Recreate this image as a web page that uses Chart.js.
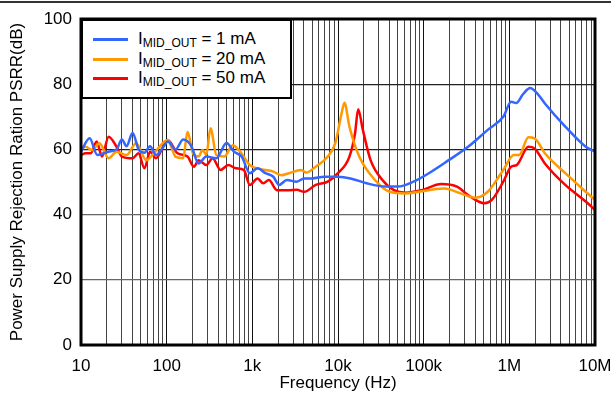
<!DOCTYPE html>
<html>
<head>
    <meta charset="UTF-8">
    <style>
        body { margin: 0; background: #fff; font-family: "Liberation Sans", Arial, sans-serif; }
        .wrap { position: relative; width: 611px; height: 394px; }
        .topline { position: absolute; left: 0; top: 1px; width: 611px; border-top: 2px solid #333; }
        .legend {
            position: absolute; left: 81px; top: 19px; width: 207px; height: 76px;
            border: 2px solid #000; background: #fff; font-size: 17px; color: #000;
        }
        .legend .row { position: absolute; left: 0; height: 20px; white-space: nowrap; }
        .legend .swatch { position: absolute; left: 10px; top: 9px; width: 35px; height: 3px; }
        .legend .txt { position: absolute; left: 55px; top: 0; line-height: 20px; }
        .legend sub { font-size: 12px; vertical-align: -3px; }
    </style>
    <script src="https://cdn.jsdelivr.net/npm/chart.js@4.4.0/dist/chart.umd.min.js"></script>
    <title>PSRR</title>
</head>
<body>
<div class="wrap">
    <canvas id="psrrChart" width="611" height="394"></canvas>
    <div class="topline"></div>
    <div class="legend" id="legend"></div>
</div>
<script>
    const seriesNames = ['1 mA', '20 mA', '50 mA'];
    const seriesColors = ['#3366ff', '#ff9900', '#ff0000'];

    const freq1mA = [10, 12.6, 15.5, 21, 26, 30, 34, 40, 47, 55, 64, 75, 93, 103, 127, 156, 194, 236, 290, 380, 500, 610, 750, 935, 1150, 1420, 1760, 2050, 2530, 3300, 4040, 4990, 6900, 10000, 14000, 21600, 36000, 50000, 76000, 115000, 196000, 330000, 560000, 850000, 1050000, 1200000, 1450000, 1750000, 2100000, 2600000, 4500000, 7800000, 10000000];
    const psrr1mA = [59.3, 63.4, 58.3, 59.3, 60, 63, 61, 65, 60, 59, 61, 58.3, 61, 62.4, 60, 63, 61, 55.7, 57.8, 57.3, 62, 59.3, 57.8, 52.7, 54.2, 52.7, 51.6, 49.1, 50.6, 50.1, 51.1, 51.1, 51.6, 51.6, 51.1, 49.6, 48.6, 48.6, 50.1, 52.7, 56.7, 60.8, 66, 70, 74.6, 74.2, 77, 78.8, 77.3, 74.1, 67, 60.8, 59.3];

    const freq20mA = [10, 11.3, 13.5, 16.4, 21, 26, 34, 44, 58, 71, 103, 127, 156, 175, 203, 236, 263, 290, 325, 380, 470, 590, 720, 935, 1420, 1760, 2170, 2680, 3690, 4260, 5500, 7600, 9300, 11000, 11900, 13600, 17700, 27000, 40000, 62000, 115000, 176000, 270000, 400000, 560000, 850000, 1130000, 1300000, 1670000, 1970000, 2600000, 4500000, 7800000, 10000000];
    const psrr20mA = [60.3, 60.8, 59.8, 61.9, 57.3, 59.3, 58.3, 61.9, 56.7, 58.8, 62.9, 57.8, 57.3, 65.4, 58.8, 57.8, 59.8, 58.3, 66.5, 58.3, 57.8, 61.3, 59.3, 55.2, 53.7, 53.2, 52.1, 52.7, 53.7, 52.9, 54.7, 57.8, 61.9, 71, 74.3, 67, 57.8, 50.6, 47, 46.5, 47.5, 48, 46.5, 45.2, 47, 53.7, 58.3, 58.3, 63.7, 63.4, 58.8, 52.7, 47, 44.5];

    const freq50mA = [10, 11.3, 13, 15.2, 17.6, 21, 26, 30, 40, 47, 55, 64, 75, 103, 134, 175, 208, 236, 290, 344, 425, 525, 645, 795, 935, 1150, 1340, 1560, 1940, 2680, 3300, 4040, 5500, 7600, 10000, 13600, 15800, 17200, 19500, 24000, 33000, 45000, 62000, 95000, 160000, 245000, 330000, 510000, 625000, 850000, 1050000, 1220000, 1670000, 1970000, 2600000, 4500000, 7800000, 10000000];
    const psrr50mA = [58.3, 58.8, 58.8, 62.4, 57.8, 63.9, 60.8, 57.8, 57.3, 58.8, 54.2, 59.3, 57.3, 62.9, 58.8, 57.8, 54.7, 56.7, 55.2, 57.3, 53.7, 55.2, 54.2, 53.7, 49.1, 51.1, 49.6, 50.6, 47.5, 47.5, 47.6, 47, 49.1, 50.1, 52.7, 57.8, 64.9, 72.3, 66, 56.7, 50.6, 47.5, 46.7, 47.5, 49.4, 48.6, 46, 43.5, 44.5, 50.1, 54.7, 55.2, 60.8, 60.3, 55.7, 49.1, 44, 41.4];

    const decadeLabels = { 10: '10', 100: '100', 1000: '1k', 10000: '10k', 100000: '100k', 1000000: '1M', 10000000: '10M' };
    const yTicks = [0, 20, 40, 60, 80, 100];

    const freqs = [freq1mA, freq20mA, freq50mA];
    const values = [psrr1mA, psrr20mA, psrr50mA];

    // legend with subscript text
    const legend = document.getElementById('legend');
    seriesNames.forEach(function (name, i) {
        const row = document.createElement('div');
        row.className = 'row';
        row.style.top = (8 + i * 19.5) + 'px';
        row.innerHTML = '<div class="swatch" style="background:' + seriesColors[i] + '"></div>' +
            '<div class="txt">I<sub>MID_OUT</sub> = ' + name + '</div>';
        legend.appendChild(row);
    });

    const frame = {
        id: 'frame',
        afterDraw(chart) {
            const a = chart.chartArea;
            const ctx = chart.ctx;
            ctx.save();
            ctx.strokeStyle = '#000';
            ctx.lineWidth = 3;
            ctx.strokeRect(a.left, a.top, a.right - a.left, a.bottom - a.top);
            ctx.restore();
        }
    };

    const font = { family: '"Liberation Sans", Arial, sans-serif', size: 17 };

    new Chart(document.getElementById('psrrChart'), {
        type: 'line',
        data: {
            datasets: seriesNames.map(function (name, i) {
                return {
                    label: 'IMID_OUT = ' + name,
                    data: freqs[i].map((f, j) => ({ x: f, y: values[i][j] })),
                    borderColor: seriesColors[i],
                    borderWidth: 2.5,
                    pointRadius: 0,
                    cubicInterpolationMode: 'monotone',
                    fill: false
                };
            })
        },
        options: {
            responsive: false,
            animation: false,
            layout: { padding: { top: 19, right: 16, left: 0, bottom: 0 } },
            plugins: { legend: { display: false }, tooltip: { enabled: false } },
            scales: {
                x: {
                    type: 'logarithmic',
                    min: 10,
                    max: 10000000,
                    afterBuildTicks(scale) {
                        const t = [];
                        for (let d = 10; d < 10000000; d *= 10) {
                            for (let k = 1; k < 10; k++) t.push({ value: d * k });
                        }
                        t.push({ value: 10000000 });
                        scale.ticks = t;
                    },
                    afterFit(scale) {
                        scale.height = 49;
                        scale.paddingLeft = 0;
                        scale.paddingRight = 0;
                    },
                    ticks: {
                        autoSkip: false,
                        maxRotation: 0,
                        padding: 11,
                        color: '#000',
                        font: font,
                        callback: v => decadeLabels[v] || ''
                    },
                    grid: {
                        drawTicks: false,
                        color: ctx => (decadeLabels[ctx.tick && ctx.tick.value] ? '#111' : '#444'),
                        lineWidth: 1
                    },
                    border: { display: false },
                    title: { display: true, text: 'Frequency (Hz)', color: '#000', font: font, padding: { top: 0, bottom: 0 } }
                },
                y: {
                    min: 0,
                    max: 100,
                    afterBuildTicks(scale) { scale.ticks = yTicks.map(v => ({ value: v })); },
                    afterFit(scale) {
                        scale.width = 81;
                        scale.paddingTop = 0;
                        scale.paddingBottom = 0;
                    },
                    ticks: { padding: 9, color: '#000', font: font },
                    grid: {
                        drawTicks: false,
                        color: ctx => (ctx.tick && ctx.tick.value >= 60 ? '#222' : '#666'),
                        lineWidth: 1.2
                    },
                    border: { display: false },
                    title: { display: true, text: 'Power Supply Rejection Ration PSRR(dB)', color: '#000', font: font, padding: { top: 7, bottom: 0 } }
                }
            }
        },
        plugins: [frame]
    });
</script>
</body>
</html>
